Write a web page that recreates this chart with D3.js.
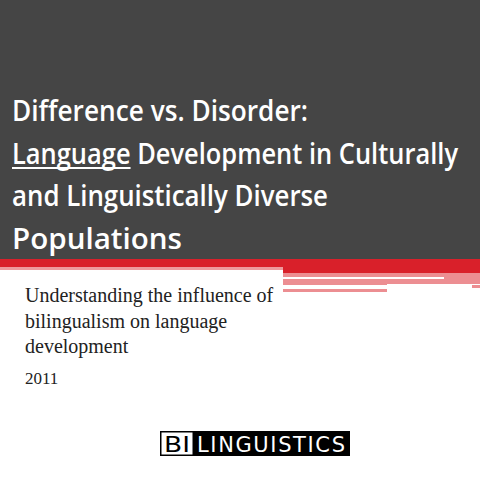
<!DOCTYPE html>
<html><head><meta charset="utf-8">
<script src="https://cdn.jsdelivr.net/npm/d3@7"></script>
<style>body{margin:0;background:#fff}</style>
</head><body><svg width="480" height="480"></svg>
<script>
var titleLines = ["Difference vs. Disorder:", "Language Development in Culturally", "and Linguistically Diverse", "Populations"];
var titleWidths = [296, 446, 316, 170];
var subLines = ["Understanding the influence of", "bilingualism on language", "development"];
var yearLabel = "2011";
var logoLeft = "BI", logoRight = "LINGUISTICS";

// band pieces: [x0, y0, x1, y1, colour]
var bands = [
    [0, 259, 480, 267, "#d9202a"],
    [283, 267, 480, 273, "#d9202a"],
    [0, 267, 283, 270, "#ee9a9d"],
    [283, 273, 480, 285, "#ec8e92"],
    [283, 277, 444, 279, "#ffffff"],
    [387, 284, 480, 286, "#ffffff"],
    [472, 285, 480, 288, "#ec8e92"],
    [283, 289, 387, 292, "#ec8e92"]
];

var svg = d3.select("svg");
svg.append("rect").attr("width", 480).attr("height", 259).attr("fill", "#454545");

svg.selectAll("rect.band").data(bands).enter().append("rect")
    .classed("band", true)
    .attr("x", d => d[0]).attr("y", d => d[1])
    .attr("width", d => d[2] - d[0]).attr("height", d => d[3] - d[1])
    .attr("fill", d => d[4]);

var t = svg.selectAll("text.title").data(titleLines).enter().append("text")
    .classed("title", true)
    .attr("x", 12).attr("y", (d, i) => 121 + i * 42.5)
    .attr("fill", "#fff")
    .style("font", "600 29px 'Open Sans'")
    .attr("textLength", (d, i) => titleWidths[i])
    .attr("lengthAdjust", "spacingAndGlyphs")
    .text(d => d);

// underline "Language"
var node = t.nodes()[1];
var uw = node.getSubStringLength(0, 8);
svg.append("rect").attr("x", 12).attr("y", 167).attr("width", uw).attr("height", 2).attr("fill", "#fff");

svg.selectAll("text.sub").data(subLines).enter().append("text")
    .attr("x", 25).attr("y", (d, i) => 302 + i * 25.5)
    .attr("fill", "#222")
    .style("font", "20px 'Liberation Serif'")
    .text(d => d);
svg.append("text").attr("x", 25).attr("y", 384)
    .attr("fill", "#222").style("font", "17px 'Liberation Serif'").text(yearLabel);

// logo
svg.append("rect").attr("x", 160).attr("y", 431).attr("width", 190).attr("height", 25).attr("fill", "#000");
svg.append("rect").attr("x", 161.5).attr("y", 432.5).attr("width", 31).attr("height", 22).attr("fill", "#fff");
svg.append("text").attr("x", 164).attr("y", 452).attr("fill", "#000")
    .style("font", "500 21px 'DejaVu Sans'").attr("textLength", 26).attr("lengthAdjust", "spacingAndGlyphs").text(logoLeft);
svg.append("text").attr("x", 197).attr("y", 452).attr("fill", "#fff")
    .style("font", "500 21px 'DejaVu Sans'").attr("textLength", 148).attr("lengthAdjust", "spacing").text(logoRight);
</script></body></html>
